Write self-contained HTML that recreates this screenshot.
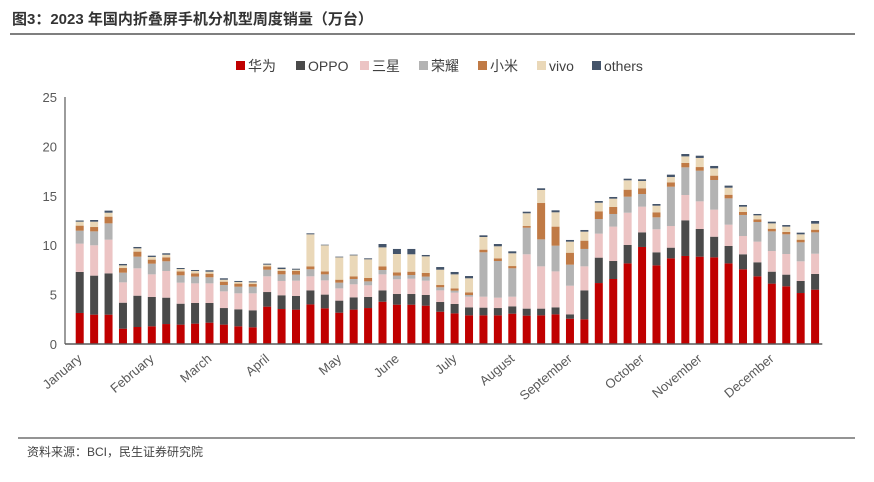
<!DOCTYPE html>
<html><head><meta charset="utf-8"><style>
body{margin:0;background:#fff;width:874px;height:477px;overflow:hidden;font-family:"Liberation Sans","Noto Sans CJK SC",sans-serif;}
</style></head><body>
<svg id="chart" width="874" height="477" xmlns="http://www.w3.org/2000/svg" font-family="Liberation Sans, Noto Sans CJK SC, sans-serif">
<text x="12" y="24" font-size="15" font-weight="bold" fill="#333">图3：2023 年国内折叠屏手机分机型周度销量（万台）</text>
<line x1="10" y1="34" x2="855" y2="34" stroke="#555" stroke-width="1.5"/>
<line x1="18" y1="438" x2="855" y2="438" stroke="#555" stroke-width="1.2"/>
<text x="27" y="456" font-size="12" fill="#444">资料来源：BCI，民生证券研究院</text>
<g id="legend"></g>
<g id="yaxis"></g>
<g id="bars"></g>
<g id="xaxis"></g>
</svg>
<script>
const seriesNames=["华为","OPPO","三星","荣耀","小米","vivo","others"];
const seriesColors=["#c00000","#4a4a4a","#ecc4c4","#b3b3b3","#c07a45","#ead8b8","#44546a"];
const huawei=[3.14,2.97,2.97,1.55,1.72,1.79,2.02,1.96,2.06,2.16,1.96,1.79,1.69,3.78,3.54,3.48,4.01,3.61,3.17,3.48,3.64,4.28,3.98,3.98,3.88,3.27,3.10,2.90,2.90,2.90,3.07,2.87,2.90,3.00,2.56,2.50,6.17,6.58,8.16,9.82,7.96,8.67,8.91,8.84,8.77,8.16,7.56,6.85,6.11,5.84,5.16,5.50];
const oppo=[4.15,3.95,4.18,2.63,3.17,2.97,2.67,2.12,2.09,1.99,1.68,1.72,1.72,1.48,1.39,1.38,1.42,1.39,1.22,1.24,1.12,1.15,1.08,1.08,1.08,0.98,0.95,0.81,0.78,0.74,0.74,0.71,0.68,0.71,0.44,2.93,2.57,1.82,1.86,1.48,1.32,1.08,3.61,2.80,2.09,1.76,1.52,1.42,1.21,1.18,1.22,1.59];
const samsung=[2.87,3.07,3.41,2.06,2.77,2.29,2.70,2.13,1.99,1.99,1.69,1.62,1.72,1.59,1.45,1.55,1.42,1.44,1.24,1.32,1.18,1.62,1.49,1.55,1.45,1.18,1.15,1.08,1.11,1.05,0.98,5.50,4.28,3.64,2.90,2.43,2.43,3.48,3.27,2.60,2.33,2.19,2.56,2.80,2.74,2.16,1.85,2.09,2.09,2.09,1.99,2.05];
const honor=[1.31,1.41,1.65,0.98,1.18,1.08,0.98,0.74,0.68,0.61,0.64,0.67,0.67,0.67,0.67,0.61,0.71,0.61,0.58,0.54,0.40,0.44,0.37,0.37,0.41,0.31,0.20,0.17,4.49,3.71,2.87,2.69,2.73,2.60,2.13,1.76,1.48,1.28,1.62,1.28,1.21,3.98,2.80,3.10,3.00,2.66,2.13,1.99,1.99,1.99,1.92,2.16];
const xiaomi=[0.51,0.44,0.68,0.47,0.51,0.41,0.40,0.40,0.33,0.37,0.34,0.31,0.27,0.34,0.34,0.37,0.30,0.30,0.30,0.27,0.34,0.37,0.33,0.34,0.37,0.23,0.23,0.27,0.27,0.27,0.23,0.17,3.68,1.93,1.21,0.84,0.78,0.71,0.71,0.58,0.51,0.44,0.44,0.37,0.44,0.37,0.30,0.27,0.27,0.24,0.27,0.27];
const vivo=[0.40,0.54,0.40,0.27,0.33,0.27,0.27,0.24,0.24,0.20,0.20,0.17,0.17,0.17,0.20,0.13,3.24,2.64,2.26,2.12,1.89,1.92,1.86,1.76,1.68,1.55,1.42,1.42,1.28,1.22,1.29,1.29,1.32,1.45,1.12,0.91,0.87,0.84,0.95,0.74,0.67,0.54,0.67,0.92,0.74,0.71,0.54,0.40,0.54,0.54,0.54,0.61];
const others=[0.12,0.17,0.21,0.14,0.14,0.13,0.14,0.10,0.10,0.14,0.14,0.10,0.10,0.10,0.14,0.10,0.10,0.06,0.07,0.07,0.10,0.34,0.51,0.54,0.14,0.27,0.24,0.23,0.17,0.23,0.20,0.16,0.17,0.20,0.17,0.17,0.17,0.17,0.16,0.17,0.17,0.24,0.24,0.23,0.24,0.21,0.17,0.14,0.17,0.16,0.17,0.27];
const monthLabels=["January","February","March","April","May","June","July","August","September","October","November","December"];
const monthWeekIndex=[0,5,9,13,18,22,26,30,34,39,43,48];
const yTicks=[0,5,10,15,20,25];

const allSeries=[huawei,oppo,samsung,honor,xiaomi,vivo,others];
const NS="http://www.w3.org/2000/svg";
const axisX=65,x0=72.5,x1=822.3,yBase=344,yTop=97,yMax=25;
const n=huawei.length;
const step=(x1-x0)/n;
function xScale(i){return x0+step*(i+0.5);}
function yScale(v){return yBase-(v/yMax)*(yBase-yTop);}
function mk(tag,attrs,parent){const e=document.createElementNS(NS,tag);for(const k in attrs)e.setAttribute(k,attrs[k]);parent.appendChild(e);return e;}

const yaxis=document.getElementById('yaxis');
mk('line',{x1:axisX,y1:yTop,x2:axisX,y2:yBase,stroke:'#595959','stroke-width':1.2},yaxis);
yTicks.forEach(t=>{
  const tx=mk('text',{x:57,y:yScale(t)+5,'text-anchor':'end','font-size':13,fill:'#595959'},yaxis);
  tx.textContent=t;
  
  
});

const bars=document.getElementById('bars');
const bw=8;
for(let i=0;i<n;i++){
  let cum=0;
  allSeries.forEach((s,k)=>{
    const v=s[i];
    const r=mk('rect',{x:xScale(i)-bw/2,y:yScale(cum+v),width:bw,height:Math.max(0,yScale(cum)-yScale(cum+v)),fill:seriesColors[k]},bars);
    
    
    cum+=v;
  });
}

const xaxis=document.getElementById('xaxis');
mk('line',{x1:axisX,y1:yBase,x2:x1,y2:yBase,stroke:'#595959','stroke-width':1.5},xaxis);
monthLabels.forEach((m,j)=>{
  const x=xScale(monthWeekIndex[j])+3,y=360;
  const t=mk('text',{x:x,y:y,'text-anchor':'end','font-size':13,fill:'#595959',transform:`rotate(-40 ${x} ${y})`},xaxis);
  t.textContent=m;
  
  
});

const legend=document.getElementById('legend');
const legX=[236,296,360,419,478,537,592];
seriesNames.forEach((s,k)=>{
  const g=mk('g',{},legend);
  
  
  mk('rect',{x:legX[k],y:61,width:9,height:9,fill:seriesColors[k]},g);
  const t=mk('text',{x:legX[k]+12,y:71,'font-size':14,fill:'#404040'},g);
  t.textContent=s;
});
</script>
</body></html>
